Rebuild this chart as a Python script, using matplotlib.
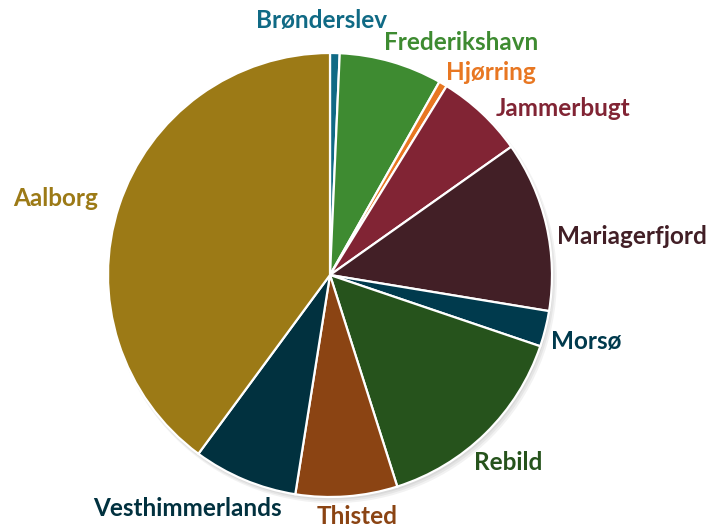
import matplotlib
matplotlib.use("Agg")
import matplotlib.pyplot as plt
from matplotlib.patches import Circle

labels = ["Brønderslev", "Frederikshavn", "Hjørring", "Jammerbugt", "Mariagerfjord",
          "Morsø", "Rebild", "Thisted", "Vesthimmerlands", "Aalborg"]
values = [0.7, 7.5, 0.6, 6.4, 12.4, 2.6, 14.9, 7.4, 7.6, 39.9]
colors = ["#106A85", "#3E8B31", "#E87722", "#812434", "#421F26",
          "#003A4D", "#26531C", "#8B4413", "#01313F", "#9C7A16"]
# label anchor positions (pixel coordinates in the 709x529 canvas)
label_px = [(322, 21), (461, 43), (491, 72), (563, 109), (632, 237),
            (586, 341), (508, 463), (357, 517), (187, 509), (56, 198)]

W, H = 709, 529
cx, cy, R = 330, 275, 222

fig = plt.figure(figsize=(W / 100, H / 100), dpi=100)
ax = fig.add_axes([0, 0, 1, 1])

# subtle shadow
for i, a in enumerate([0.05, 0.05, 0.05]):
    ax.add_patch(Circle((0.006 + 0.004 * i, -0.012 - 0.004 * i), 1.0 + 0.004 * i,
                        facecolor="black", alpha=a, edgecolor="none", zorder=0))

ax.pie(values, colors=colors, startangle=90, counterclock=False, radius=1.0,
       center=(0, 0), frame=True,
       wedgeprops=dict(edgecolor="white", linewidth=1.6))
ax.set_xlim(-cx / R, (W - cx) / R)
ax.set_ylim(-(H - cy) / R, cy / R)
ax.set_aspect("equal")
ax.axis("off")

for lab, col, (px, py) in zip(labels, colors, label_px):
    ax.text((px - cx) / R, (cy - py) / R, lab, color=col, fontsize=17.5,
            fontweight="bold", family=["Lato", "DejaVu Sans"],
            ha="center", va="center")

fig.savefig("out.png", dpi=100, facecolor="white")
